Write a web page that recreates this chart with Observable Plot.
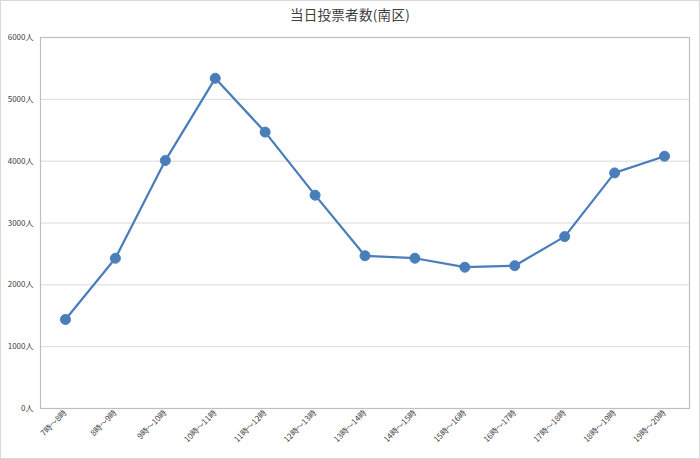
<!DOCTYPE html>
<html>
<head>
<meta charset="utf-8">
<script src="https://cdn.jsdelivr.net/npm/d3@7"></script>
<script src="https://cdn.jsdelivr.net/npm/@observablehq/plot@0.6"></script>
<style>
  html, body { margin: 0; padding: 0; background: #fff; }
  #wrap { position: relative; width: 698px; height: 457px; border: 1px solid #d9d9d9; overflow: hidden; }
  #title { height: 29px; line-height: 26px; text-align: center; font-family: "Noto Sans CJK JP", sans-serif; font-size: 13.5px; color: #404040; letter-spacing: 0.3px; }
  svg { display: block; }
</style>
</head>
<body>
<div id="wrap">
  <div id="title">当日投票者数(南区)</div>
  <div id="chart"></div>
</div>
<script>
const categories = ["7時～8時","8時～9時","9時～10時","10時～11時","11時～12時","12時～13時","13時～14時","14時～15時","15時～16時","16時～17時","17時～18時","18時～19時","19時～20時"];
const voters = [1440, 2430, 4010, 5340, 4470, 3450, 2470, 2430, 2285, 2310, 2780, 3810, 4080];
const yTicks = [0, 1000, 2000, 3000, 4000, 5000, 6000];

const data = categories.map((c, i) => ({cat: c, value: voters[i]}));
const font = "'Noto Sans CJK JP', sans-serif";

const chart = Plot.plot({
  width: 698,
  height: 428,
  marginTop: 7,
  marginLeft: 39,
  marginRight: 10,
  marginBottom: 50,
  style: {fontFamily: font, fontSize: "8px", color: "#404040", background: "#fff"},
  x: {type: "point", domain: categories, padding: 0.5, round: false, label: null},
  y: {domain: [0, 6000], label: null},
  marks: [
    Plot.gridY(yTicks, {stroke: "#d9d9d9", strokeOpacity: 1, strokeWidth: 1}),
    Plot.frame({stroke: "#bfbfbf", strokeWidth: 1.2}),
    Plot.axisY(yTicks, {tickSize: 0, tickPadding: 7, tickFormat: d => d + "人", fontSize: 8, fill: "#404040"}),
    Plot.axisX({tickSize: 0, tickPadding: 3, tickRotate: -45, fontSize: 8, fill: "#404040", textAnchor: "end"}),
    Plot.line(data, {x: "cat", y: "value", stroke: "#4a7ebb", strokeWidth: 2.25}),
    Plot.dot(data, {x: "cat", y: "value", r: 5, fill: "#4a7ebb", stroke: "#4a7ebb", strokeWidth: 1})
  ]
});
document.getElementById("chart").appendChild(chart);
</script>
</body>
</html>
